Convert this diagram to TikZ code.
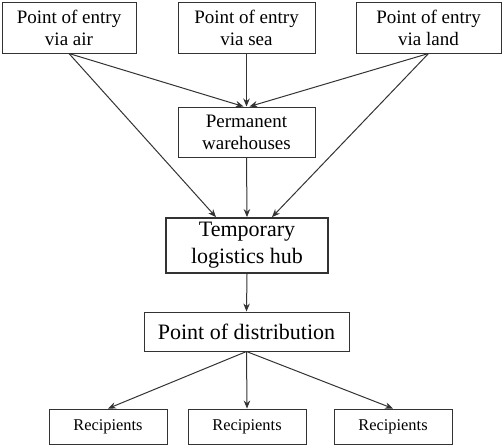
\documentclass[tikz,border=0pt]{standalone}
\usepackage{fontspec}
\setmainfont{Liberation Serif}
\usetikzlibrary{arrows.meta}
\definecolor{ink}{HTML}{333333}
\tikzset{
  box/.style={draw=ink, line width=1pt, inner sep=0pt, align=center, text=black,
    font=\fontsize{19}{22}\selectfont},
  bigbox/.style={box, line width=1.8pt, font=\fontsize{22}{27}\selectfont},
  recbox/.style={box, font=\fontsize{16.4}{20}\selectfont, minimum width=118pt, minimum height=35pt},
  arr/.style={draw=ink, line width=1pt, -{Stealth[length=8pt,width=6.5pt]}}
}
\begin{document}
\begin{tikzpicture}[x=1pt,y=-1pt]
\useasboundingbox (0,0) rectangle (502,445);
\node[box, minimum width=134pt, minimum height=51pt] (air) at (69,27.5) {Point of entry\\via air};
\node[box, minimum width=137pt, minimum height=51pt] (sea) at (246.5,27.5) {Point of entry\\via sea};
\node[box, minimum width=145pt, minimum height=51pt] (land) at (428.5,27.5) {Point of entry\\via land};
\node[box, minimum width=137pt, minimum height=50pt] (perm) at (246.5,132) {Permanent\\warehouses};
\node[bigbox, minimum width=162pt, minimum height=55pt] (hub) at (247,245.5) {Temporary\\logistics hub};
\node[box, font=\fontsize{22}{27}\selectfont, minimum width=205pt, minimum height=39pt] (pod) at (246.5,331.5) {Point of distribution};
\node[recbox] (r1) at (108,426.5) {Recipients};
\node[recbox] (r2) at (247,426.5) {Recipients};
\node[recbox] (r3) at (393,426.5) {Recipients};
\draw[arr] (air.south) -- ([xshift=-3pt]perm.north);
\draw[arr] (sea.south) -- (perm.north);
\draw[arr] (land.south) -- ([xshift=3pt]perm.north);
\draw[arr] (air.south) -- ([xshift=-31pt]hub.north);
\draw[arr] (perm.south) -- (hub.north);
\draw[arr] (land.south) -- ([xshift=25pt]hub.north);
\draw[arr] (hub.south) -- (pod.north);
\draw[arr] (pod.south) -- (r1.north);
\draw[arr] (pod.south) -- (r2.north);
\draw[arr] (pod.south) -- (r3.north);
\end{tikzpicture}
\end{document}
